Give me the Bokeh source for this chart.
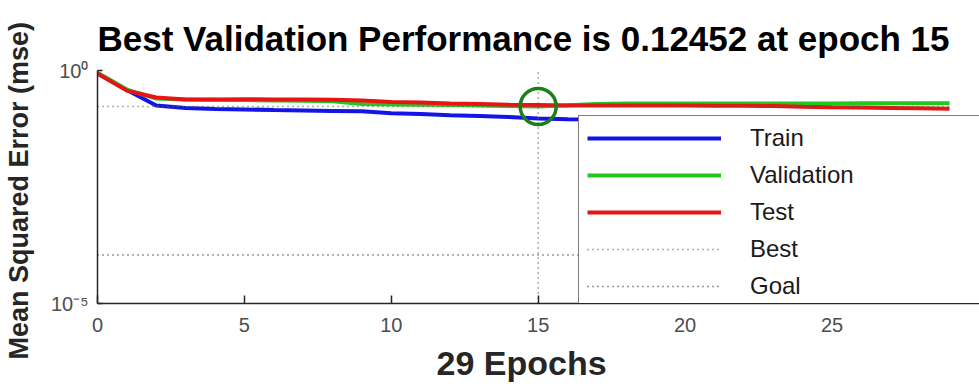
from bokeh.plotting import figure
from bokeh.models import FixedTicker, Legend, LegendItem, CustomJSTickFormatter, Title
from bokeh.embed import file_html
from bokeh.resources import INLINE

# ---- data ----
epochs = list(range(30))
train = [0.86, 0.38, 0.177, 0.157, 0.150, 0.146, 0.142, 0.139, 0.136, 0.133,
         0.121, 0.116, 0.110, 0.105, 0.100, 0.093, 0.090, 0.089, 0.088, 0.087,
         0.086, 0.085, 0.084, 0.084, 0.083, 0.082, 0.082, 0.081, 0.081, 0.080]
validation = [0.90, 0.39, 0.25, 0.24, 0.235, 0.232, 0.228, 0.224, 0.220, 0.192,
              0.187, 0.185, 0.182, 0.178, 0.174, 0.169, 0.180, 0.190, 0.195, 0.196,
              0.196, 0.196, 0.197, 0.197, 0.197, 0.197, 0.198, 0.198, 0.198, 0.198]
test = [0.86, 0.37, 0.263, 0.239, 0.240, 0.241, 0.240, 0.239, 0.236, 0.227,
        0.212, 0.205, 0.196, 0.190, 0.184, 0.182, 0.178, 0.177, 0.177, 0.177,
        0.177, 0.176, 0.175, 0.172, 0.167, 0.163, 0.160, 0.157, 0.154, 0.151]
best_epoch = 15
best_value = 0.169
goal_value = 1.1e-4
x_ticks = [0, 5, 10, 15, 20, 25]
y_ticks = [1e-5, 1.0]
title_text = "Best Validation Performance is 0.12452 at epoch 15"
x_label = "29 Epochs"
y_label = "Mean Squared Error  (mse)"
legend_labels = ["Train", "Validation", "Test", "Best", "Goal"]

FONT = "Liberation Sans"

# frame runs to the right edge of the window so the legend can overhang the
# last epoch like in the reference (29 epochs span 853 px -> 30.02 at 979 px)
p = figure(width=979, height=389, y_axis_type="log",
           x_range=(0, 30.02), y_range=(1e-5, 1.0),
           output_backend="svg", toolbar_location=None,
           min_border_left=96, min_border_right=0,
           min_border_top=70, min_border_bottom=85)
p.grid.visible = False
p.outline_line_color = None
p.background_fill_color = "white"
p.border_fill_color = "white"

p.title.text = title_text
p.title.align = "left"
p.title.offset = 0
p.title.text_font = FONT
p.title.text_font_size = "35px"
p.title.text_font_style = "bold"
p.title.text_color = "#000000"
p.title.standoff = 26

for ax in (p.xaxis[0], p.yaxis[0]):
    ax.axis_line_color = "#262626"
    ax.axis_line_width = 1.5
    ax.major_tick_line_color = "#262626"
    ax.major_tick_line_width = 1.5
    ax.major_tick_out = 0
    ax.minor_tick_line_color = None
    ax.major_label_text_font = FONT
    ax.major_label_text_font_size = "20px"
    ax.major_label_text_color = "#4d4d4d"
    ax.axis_label_text_font = FONT
    ax.axis_label_text_font_style = "bold"
    ax.axis_label_text_color = "#262626"

p.xaxis.ticker = FixedTicker(ticks=x_ticks)
p.xaxis.major_tick_in = 8
p.xaxis.major_label_standoff = 14
p.xaxis.major_label_text_line_height = 1.0

xt = Title(text=x_label, align="left", offset=339, text_font=FONT,
           text_font_size="34px", text_font_style="bold", text_color="#262626",
           text_line_height=1.0, standoff=15)
p.add_layout(xt, "below")

p.yaxis.ticker = FixedTicker(ticks=y_ticks)
p.yaxis.formatter = CustomJSTickFormatter(code="return tick > 0.5 ? '10\u2070' : '10\u207b\u2075';")
p.yaxis.major_tick_in = 5
p.yaxis.major_label_standoff = 9
p.yaxis.axis_label = y_label
p.yaxis.axis_label_text_font_size = "27px"
p.yaxis.axis_label_standoff = 14

# goal line
r_goal = p.line([0, 29], [goal_value, goal_value], line_color="#333333",
                line_width=1.5, line_dash="1 4")
# data lines
r_train = p.line(epochs, train, line_color="#1414e6", line_width=4)
r_val = p.line(epochs, validation, line_color="#22c822", line_width=4)
r_test = p.line(epochs, test, line_color="#e81414", line_width=4)
# best lines
r_best = p.line([0, 29], [best_value, best_value], line_color="#4a6e4a",
                line_width=1.5, line_dash="1 4")
p.line([best_epoch, best_epoch], [1e-5, 1.0], line_color="#4a6e4a",
       line_width=1.5, line_dash="1 4")
p.scatter([best_epoch], [best_value], marker="circle", size=36,
          fill_color=None, line_color="#1a801a", line_width=3.5)

legend = Legend(items=[
    LegendItem(label=legend_labels[0], renderers=[r_train]),
    LegendItem(label=legend_labels[1], renderers=[r_val]),
    LegendItem(label=legend_labels[2], renderers=[r_test]),
    LegendItem(label=legend_labels[3], renderers=[r_best]),
    LegendItem(label=legend_labels[4], renderers=[r_goal]),
], location=(481, -6))
legend.glyph_width = 134
legend.glyph_height = 28
legend.label_height = 28
legend.label_width = 240
legend.label_standoff = 29
legend.padding = 8
legend.spacing = 9
legend.margin = 0
legend.border_line_color = "#000000"
legend.border_line_width = 1.5
legend.background_fill_color = "white"
legend.background_fill_alpha = 1.0
legend.label_text_font = FONT
legend.label_text_font_size = "24px"
legend.label_text_color = "#1a1a1a"
p.add_layout(legend)

open("out.html", "w").write(file_html(p, INLINE))
